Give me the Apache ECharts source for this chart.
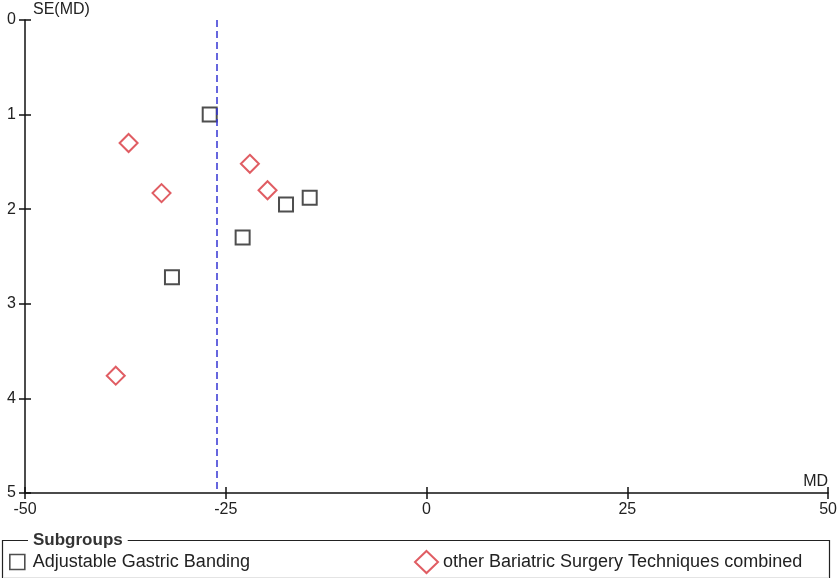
<!DOCTYPE html>
<html>
<head>
<meta charset="utf-8">
<script src="https://cdn.jsdelivr.net/npm/echarts@6/dist/echarts.min.js"></script>
<style>
html,body{margin:0;padding:0;background:#fff;}
#c{width:840px;height:579px;}
</style>
</head>
<body>
<div id="c"></div>
<script>
// Data: [MD, SE(MD)]
const bandingMD = [-27.0, -14.55, -17.5, -22.9, -31.7];
const bandingSE = [1.00, 1.88, 1.95, 2.30, 2.72];
const otherMD = [-37.1, -33.0, -22.0, -19.8, -38.7];
const otherSE = [1.30, 1.83, 1.52, 1.80, 3.76];
const pooledMD = -26.15;
const xTicks = [-50, -25, 0, 25, 50];
const yTicks = [0, 1, 2, 3, 4, 5];
const seriesNames = ['Adjustable Gastric Banding', 'other Bariatric Surgery Techniques combined'];

const FONT = '"Liberation Sans", Arial, sans-serif';
const TXT = '#222';

const chart = echarts.init(document.getElementById('c'), null, {renderer: 'canvas'});

const pairs = (xs, ys) => xs.map((v, i) => [v, ys[i]]);

const baseX = {
  type: 'value', min: xTicks[0], max: xTicks[xTicks.length - 1], interval: 25,
  splitLine: {show: false}
};
const baseY = {
  type: 'value', inverse: true, min: yTicks[0], max: yTicks[yTicks.length - 1], interval: 1,
  splitLine: {show: false}
};

chart.setOption({
  animation: false,
  backgroundColor: '#fff',
  textStyle: {fontFamily: FONT},
  grid: {left: 25, right: 11, top: 20, bottom: 86, containLabel: false},
  xAxis: [
    Object.assign({}, baseX, {
      position: 'bottom',
      name: 'MD', nameLocation: 'end', nameGap: 0,
      nameTextStyle: {color: TXT, fontSize: 16, fontFamily: FONT, align: 'right', verticalAlign: 'bottom', padding: [0, 0, 3, 0]},
      axisLine: {show: true, onZero: false, lineStyle: {color: '#111', width: 1.5}},
      axisTick: {show: true, length: 6, lineStyle: {color: '#111', width: 1.5}},
      axisLabel: {color: TXT, fontSize: 16, fontFamily: FONT, margin: 9,
        formatter: v => xTicks.includes(v) ? String(v) : ''}
    }),
    Object.assign({}, baseX, {
      position: 'bottom', offset: 0,
      axisLine: {show: true, onZero: false, lineStyle: {color: 'rgba(0,0,0,0)', width: 1}},
      axisTick: {show: true, inside: true, length: 6, lineStyle: {color: '#111', width: 1.5}},
      axisLabel: {show: false}
    })
  ],
  yAxis: [
    Object.assign({}, baseY, {
      position: 'left',
      name: 'SE(MD)', nameLocation: 'start', nameGap: 10,
      nameTextStyle: {color: TXT, fontSize: 16, fontFamily: FONT, align: 'left', verticalAlign: 'middle', padding: [0, 0, 0, 8]},
      axisLine: {show: true, onZero: false, lineStyle: {color: '#111', width: 1.5}},
      axisTick: {show: true, length: 6, lineStyle: {color: '#111', width: 1.5}},
      axisLabel: {color: TXT, fontSize: 16, fontFamily: FONT, margin: 9,
        formatter: v => yTicks.includes(v) ? String(v) : ''}
    }),
    Object.assign({}, baseY, {
      position: 'left', offset: 0,
      axisLine: {show: true, onZero: false, lineStyle: {color: 'rgba(0,0,0,0)', width: 1}},
      axisTick: {show: true, inside: true, length: 6, lineStyle: {color: '#111', width: 1.5}},
      axisLabel: {show: false}
    })
  ],
  legend: [
    {
      left: 4, top: 548, itemWidth: 15, itemHeight: 15, selectedMode: false,
      textStyle: {color: TXT, fontSize: 18, fontFamily: FONT, padding: [0, 0, 0, 3]},
      data: [{name: seriesNames[0], icon: 'rect',
        itemStyle: {color: '#fff', borderColor: '#222', borderWidth: 1.6}}]
    },
    {
      left: 409, top: 545, itemWidth: 23, itemHeight: 22, selectedMode: false,
      textStyle: {color: TXT, fontSize: 18, fontFamily: FONT},
      data: [{name: seriesNames[1], icon: 'diamond',
        itemStyle: {color: '#fff', borderColor: '#d8343c', borderWidth: 2}}]
    }
  ],
  graphic: [
    {type: 'rect', silent: true, z: -1,
      shape: {x: 2.5, y: 540.5, width: 827, height: 37},
      style: {fill: '#fff', stroke: '#222', lineWidth: 1.2}},
    {type: 'line', silent: true, z: 0,
      shape: {x1: 3, y1: 577.5, x2: 829, y2: 577.5},
      style: {stroke: '#e4e4e4', lineWidth: 1.2}},
    {type: 'text', silent: true, z: 1, left: 28, top: 532,
      style: {text: 'Subgroups', fill: '#333', font: 'bold 17px ' + FONT,
        backgroundColor: '#fff', padding: [0, 5, 0, 5]}}
  ],
  series: [
    {
      name: seriesNames[0], type: 'scatter', symbol: 'rect', symbolSize: 14,
      data: pairs(bandingMD, bandingSE),
      itemStyle: {color: 'rgba(255,255,255,0)', borderColor: '#222', borderWidth: 2},
      markLine: {
        silent: true, symbol: 'none', label: {show: false},
        lineStyle: {color: '#3434d4', type: [7, 4], width: 1.5},
        data: [{xAxis: pooledMD}]
      },
      z: 3
    },
    {
      name: seriesNames[1], type: 'scatter', symbol: 'diamond', symbolSize: 18,
      data: pairs(otherMD, otherSE),
      itemStyle: {color: 'rgba(255,255,255,0)', borderColor: '#d8343c', borderWidth: 2},
      z: 3
    },
    {
      name: 'tickHelper', type: 'scatter', xAxisIndex: 1, yAxisIndex: 1,
      data: [], silent: true
    }
  ]
});
</script>
</body>
</html>
